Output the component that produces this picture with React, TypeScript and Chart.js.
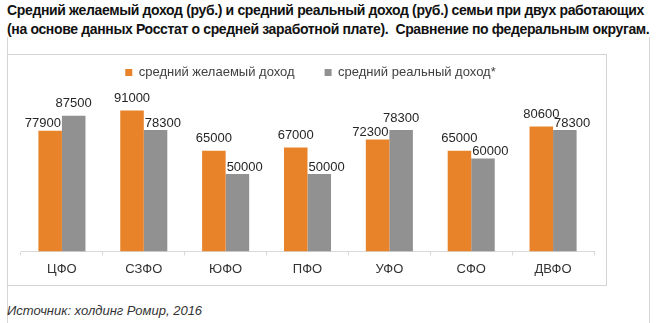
import React, { useEffect, useRef } from 'react';
import { Chart, registerables } from 'chart.js';

Chart.register(...registerables);

const categories = ['ЦФО', 'СЗФО', 'ЮФО', 'ПФО', 'УФО', 'СФО', 'ДВФО'];
const desiredIncome = [77900, 91000, 65000, 67000, 72300, 65000, 80600];
const realIncome = [87500, 78300, 50000, 50000, 78300, 60000, 78300];
const seriesNames = ['средний желаемый доход', 'средний реальный доход*'];
const titleLines = [
  'Средний желаемый доход (руб.) и средний реальный доход (руб.) семьи при двух работающих',
  '(на основе данных Росстат о средней заработной плате).  Сравнение по федеральным округам.',
];
const sourceText = 'Источник: холдинг Ромир, 2016';
const yMax = 100000;

const FONT = '"Liberation Sans", Arial, Helvetica, sans-serif';
const ORANGE = '#E8832A';
const GREY = '#919191';

const legendTweak = {
  id: 'legendTweak',
  afterInit(chart: any) {
    const legend = chart.legend;
    if (!legend) return;
    const origFit = legend.fit.bind(legend);
    legend.fit = function () {
      origFit();
      this.height += 7.5;
    };
  },
  afterLayout(chart: any) {
    const legend = chart.legend;
    if (!legend) return;
    legend.left += 3;
    legend.right += 3;
  },
};

const valueLabels = {
  id: 'valueLabels',
  afterDatasetsDraw(chart: any) {
    const ctx = chart.ctx;
    ctx.save();
    ctx.font = `13px ${FONT}`;
    ctx.fillStyle = '#262626';
    ctx.textAlign = 'center';
    ctx.textBaseline = 'middle';
    const metas = [chart.getDatasetMeta(0), chart.getDatasetMeta(1)];
    const ds = chart.data.datasets;
    for (let i = 0; i < categories.length; i++) {
      const bars = [metas[0].data[i], metas[1].data[i]];
      const texts = [String(ds[0].data[i]), String(ds[1].data[i])];
      const w = texts.map((t) => ctx.measureText(t).width);
      const xs = [bars[0].x, bars[1].x];
      const ys = [bars[0].y - 12, bars[1].y - 12];
      const lower = bars[0].y > bars[1].y ? 0 : 1;
      const overlap = (w[0] + w[1]) / 2 - (xs[1] - xs[0]);
      if (overlap > 0) {
        xs[lower] += (lower === 0 ? -1 : 1) * (overlap / 2 + 1);
        ys[lower] = bars[lower].y - 7;
      }
      for (let k = 0; k < 2; k++) ctx.fillText(texts[k], xs[k], ys[k]);
    }
    ctx.restore();
  },
};

export default function App() {
  const ref = useRef<HTMLCanvasElement | null>(null);

  useEffect(() => {
    if (!ref.current) return;
    const chart = new Chart(ref.current, {
      type: 'bar',
      data: {
        labels: categories,
        datasets: [
          { label: seriesNames[0], data: desiredIncome, backgroundColor: ORANGE, borderWidth: 0 },
          { label: seriesNames[1], data: realIncome, backgroundColor: GREY, borderWidth: 0 },
        ],
      },
      options: {
        responsive: false,
        animation: false,
        devicePixelRatio: 1,
        layout: { padding: { left: 13, right: 11, top: 0, bottom: 1 } },
        datasets: { bar: { categoryPercentage: 0.575, barPercentage: 1 } },
        plugins: {
          legend: {
            position: 'top',
            labels: {
              boxWidth: 7,
              boxHeight: 7,
              padding: 30,
              color: '#404040',
              font: { family: FONT, size: 13 },
            },
          },
          tooltip: { enabled: false },
          title: { display: false },
        },
        scales: {
          x: {
            grid: {
              display: true,
              drawOnChartArea: false,
              drawTicks: true,
              tickLength: 4,
              color: '#d9d9d9',
              offset: true,
            },
            border: { display: true, color: '#d9d9d9' },
            ticks: { color: '#333333', font: { family: FONT, size: 13 }, padding: 6 },
          },
          y: { display: false, min: 0, max: yMax },
        },
      },
      plugins: [legendTweak, valueLabels],
    });
    return () => chart.destroy();
  }, []);

  return (
    <div style={{ position: 'absolute', left: 0, top: 0, width: 657, height: 323, background: '#fff', overflow: 'hidden', fontFamily: FONT }}>
      <div style={{ position: 'absolute', left: 7, top: 37, width: 1, height: 286, background: '#d6d6d6' }} />
      <div style={{ position: 'absolute', left: 649, top: 37, width: 1, height: 286, background: '#d6d6d6' }} />
      <div style={{ position: 'absolute', left: 7, top: 54, width: 600, height: 232, boxSizing: 'border-box', border: '1px solid #d4d4d4' }} />
      <div style={{ position: 'absolute', left: 7, top: 1, fontWeight: 'bold', fontSize: 14, letterSpacing: '-0.35px', lineHeight: '19px', color: '#111', whiteSpace: 'pre' }}>
        {titleLines.map((t, i) => (
          <div key={i}>{t}</div>
        ))}
      </div>
      <canvas ref={ref} width={597} height={248} style={{ position: 'absolute', left: 8, top: 36, width: 597, height: 248 }} />
      <div style={{ position: 'absolute', left: 7, top: 302, fontStyle: 'italic', fontSize: 13, lineHeight: '17px', color: '#333', whiteSpace: 'pre' }}>
        {sourceText}
      </div>
    </div>
  );
}
